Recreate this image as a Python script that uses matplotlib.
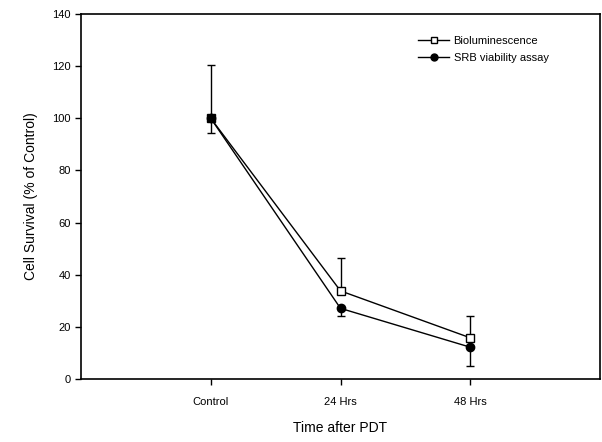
import matplotlib
matplotlib.use("Agg")
import matplotlib.pyplot as plt
from matplotlib.lines import Line2D

categories = ["Control", "24 Hrs", "48 Hrs"]
biolum = [100, 33.8, 15.8]
biolum_err_up = [20.3, 12.5, 8.5]
srb = [100, 27.1, 12.2]
srb_err_down = [5.6, 3.0, 7.2]
yticks = [0, 20, 40, 60, 80, 100, 120, 140]

plt.rcParams['font.family'] = ['Liberation Sans', 'DejaVu Sans']

fig = plt.figure(figsize=(6.02, 4.42), dpi=100)
ax = fig.add_axes([81/602, 63/442, 519/602, 365/442])

x = [1, 2, 3]
ax.errorbar(x, biolum, yerr=[[0]*3, biolum_err_up], color='black', lw=1,
            marker='s', ms=6, mfc='white', mec='black', mew=1,
            capsize=3, elinewidth=1, capthick=1, zorder=3)
ax.errorbar(x, srb, yerr=[srb_err_down, [0]*3], color='black', lw=1,
            marker='o', ms=6, mfc='black', mec='black',
            capsize=3, elinewidth=1, capthick=1, zorder=4)

ax.set_xlim(0, 4)
ax.set_ylim(0, 140)
ax.set_xticks(x)
ax.set_xticklabels(categories)
ax.set_yticks(yticks)
ax.tick_params(direction='out', length=4, width=1, labelsize=8, top=False, right=False)
ax.tick_params(axis='x', pad=9)
for s in ax.spines.values():
    s.set_linewidth(1.2)

ax.set_xlabel("Time after PDT", fontsize=10, labelpad=10)
ax.set_ylabel("Cell Survival (% of Control)", fontsize=10, labelpad=10)

handles = [
    Line2D([], [], color='black', lw=1, marker='s', ms=5, mfc='white', mec='black'),
    Line2D([], [], color='black', lw=1, marker='o', ms=5, mfc='black', mec='black'),
]
ax.legend(handles, ['Bioluminescence', 'SRB viability assay'],
          loc='upper left', bbox_to_anchor=(0.63, 0.967), frameon=False,
          fontsize=8, handlelength=2.8, labelspacing=0.6, handletextpad=0.4)

fig.savefig("out.png", dpi=100)
